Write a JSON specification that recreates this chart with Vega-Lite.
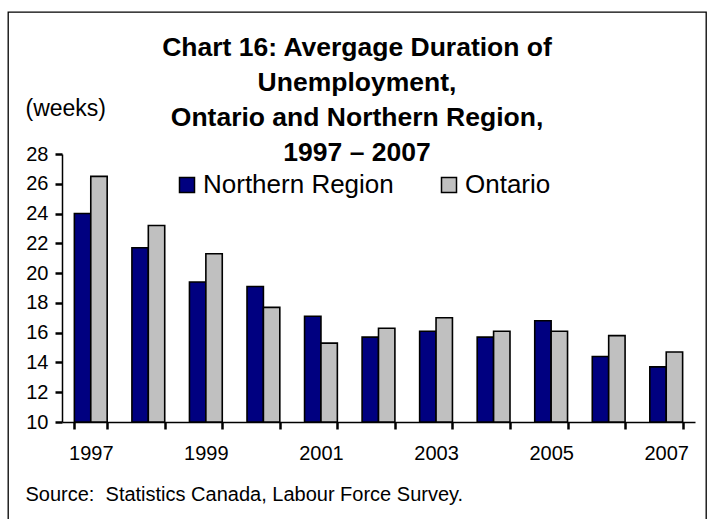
{
  "$schema": "https://vega.github.io/schema/vega-lite/v6.json",
  "width": 698,
  "height": 510,
  "autosize": {"type": "none"},
  "padding": {"left": 8, "top": 12, "right": 3, "bottom": -3},
  "background": "white",
  "config": {
    "view": {"stroke": "black", "strokeWidth": 1.3, "fill": "white"},
    "font": "Liberation Sans"
  },
  "title": {
    "text": ["Chart 16: Avergage Duration of", "Unemployment,", "Ontario and Northern Region,", "1997 – 2007"],
    "font": "Liberation Sans",
    "fontSize": 26.5,
    "fontWeight": "bold",
    "color": "black",
    "lineHeight": 35,
    "anchor": "middle",
    "offset": -154
  },
  "data": {
    "values": [
      {"year": 1997, "series": "Northern Region", "weeks": 24.0},
      {"year": 1997, "series": "Ontario", "weeks": 26.5},
      {"year": 1998, "series": "Northern Region", "weeks": 21.7},
      {"year": 1998, "series": "Ontario", "weeks": 23.2},
      {"year": 1999, "series": "Northern Region", "weeks": 19.4},
      {"year": 1999, "series": "Ontario", "weeks": 21.3},
      {"year": 2000, "series": "Northern Region", "weeks": 19.1},
      {"year": 2000, "series": "Ontario", "weeks": 17.7},
      {"year": 2001, "series": "Northern Region", "weeks": 17.1},
      {"year": 2001, "series": "Ontario", "weeks": 15.3},
      {"year": 2002, "series": "Northern Region", "weeks": 15.7},
      {"year": 2002, "series": "Ontario", "weeks": 16.3},
      {"year": 2003, "series": "Northern Region", "weeks": 16.1},
      {"year": 2003, "series": "Ontario", "weeks": 17.0},
      {"year": 2004, "series": "Northern Region", "weeks": 15.7},
      {"year": 2004, "series": "Ontario", "weeks": 16.1},
      {"year": 2005, "series": "Northern Region", "weeks": 16.8},
      {"year": 2005, "series": "Ontario", "weeks": 16.1},
      {"year": 2006, "series": "Northern Region", "weeks": 14.4},
      {"year": 2006, "series": "Ontario", "weeks": 15.8},
      {"year": 2007, "series": "Northern Region", "weeks": 13.7},
      {"year": 2007, "series": "Ontario", "weeks": 14.7}
    ]
  },
  "mark": {"type": "bar", "stroke": "black", "strokeWidth": 1.6},
  "encoding": {
    "x": {
      "field": "year",
      "type": "ordinal",
      "scale": {"range": [54, 687], "paddingInner": 0.43, "paddingOuter": 0.215},
      "axis": {
        "orient": "bottom",
        "offset": -100,
        "labelAngle": 0,
        "labelExpr": "datum.value % 2 == 1 ? datum.label : ''",
        "ticks": true,
        "tickBand": "extent",
        "tickSize": 7,
        "tickColor": "#000000",
        "tickWidth": 2.5,
        "domainColor": "black",
        "domainWidth": 1.5,
        "labelFont": "Liberation Sans",
        "labelFontSize": 20,
        "labelColor": "black",
        "labelPadding": 14,
        "title": "Source:\u00a0 Statistics Canada, Labour Force Survey.",
        "titleFont": "Liberation Sans",
        "titleFontSize": 20,
        "titleFontWeight": "normal",
        "titleColor": "black",
        "titleAlign": "left",
        "titleBaseline": "alphabetic",
        "titleX": 17,
        "titleY": 78
      }
    },
    "xOffset": {"field": "series", "type": "nominal", "sort": ["Northern Region", "Ontario"]},
    "y": {
      "field": "weeks",
      "type": "quantitative",
      "scale": {"domain": [10, 28], "nice": false, "zero": false, "range": [410, 142]},
      "axis": {
        "orient": "left",
        "offset": -54,
        "values": [10, 12, 14, 16, 18, 20, 22, 24, 26, 28],
        "grid": false,
        "ticks": true,
        "tickSize": 7,
        "tickColor": "#000000",
        "tickWidth": 2.5,
        "domainColor": "black",
        "domainWidth": 1.5,
        "labelFont": "Liberation Sans",
        "labelFontSize": 20,
        "labelColor": "black",
        "labelPadding": 7,
        "title": "(weeks)",
        "titleFont": "Liberation Sans",
        "titleFontSize": 23,
        "titleFontWeight": "normal",
        "titleColor": "black",
        "titleAngle": 0,
        "titleAlign": "left",
        "titleBaseline": "alphabetic",
        "titleX": -37,
        "titleY": 103
      }
    },
    "y2": {"datum": 10},
    "color": {
      "field": "series",
      "type": "nominal",
      "sort": ["Northern Region", "Ontario"],
      "scale": {"domain": ["Northern Region", "Ontario"], "range": ["#000080", "#C0C0C0"]},
      "legend": {
        "title": null,
        "orient": "none",
        "legendX": 166,
        "legendY": 160,
        "direction": "horizontal",
        "padding": 0,
        "symbolType": "square",
        "symbolSize": 225,
        "symbolStrokeColor": "black",
        "symbolStrokeWidth": 1.5,
        "symbolOpacity": 1,
        "labelFont": "Liberation Sans",
        "labelFontSize": 26,
        "labelColor": "black",
        "labelOffset": 3,
        "columnPadding": 42,
        "labelLimit": 400
      }
    }
  }
}
